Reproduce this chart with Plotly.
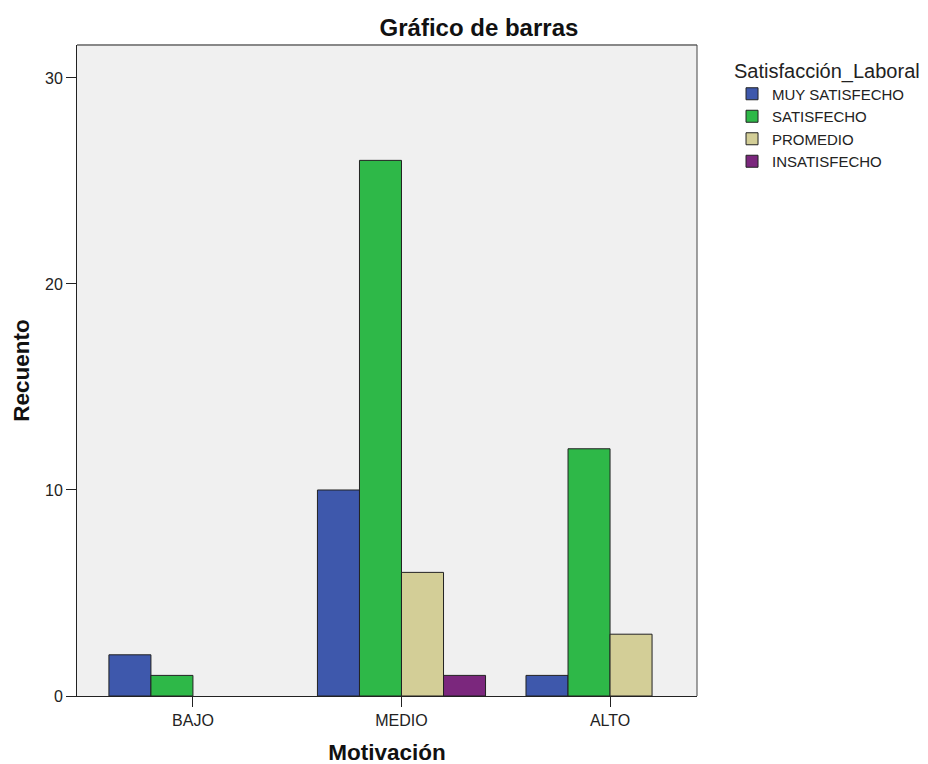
import plotly.graph_objects as go

categories = ["BAJO", "MEDIO", "ALTO"]
series_names = ["MUY SATISFECHO", "SATISFECHO", "PROMEDIO", "INSATISFECHO"]
values = {
    "MUY SATISFECHO": [2, 10, 1],
    "SATISFECHO": [1, 26, 12],
    "PROMEDIO": [0, 6, 3],
    "INSATISFECHO": [0, 1, 0],
}
colors = ["#3E58AC", "#2EB848", "#D3CE97", "#7B277D"]
y_ticks = [0, 10, 20, 30]

fig = go.Figure()
for name, col in zip(series_names, colors):
    fig.add_trace(go.Bar(
        x=categories, y=[v if v else None for v in values[name]], name=name,
        marker=dict(color=col, line=dict(color="#222222", width=1)),
    ))

font_family = "Liberation Sans, Arial, sans-serif"
fig.update_layout(
    width=928, height=764,
    margin=dict(l=69, r=239, t=37, b=76),
    paper_bgcolor="white", plot_bgcolor="#F0F0F0",
    barmode="group", bargap=0.194, bargroupgap=0,
    font=dict(family=font_family, size=16, color="#222222"),
    title=dict(text="<b>Gráfico de barras</b>", x=0.5075, xanchor="center",
               y=0.975, yanchor="middle", font=dict(size=24, color="#111111")),
    xaxis=dict(range=[-0.556, 2.417], showline=True, linecolor="#222222",
               linewidth=1, ticks="outside", ticklen=10, tickcolor="#222222",
               mirror=False, showgrid=False, zeroline=False,
               title=dict(text="<b>Motivación</b>", font=dict(size=22.5, color="#111111"),
                          standoff=16),
               tickfont=dict(size=16)),
    yaxis=dict(range=[0, 31.6], tickvals=y_ticks, showline=True, linecolor="#222222",
               linewidth=1, ticks="outside", ticklen=10, tickcolor="#222222",
               showgrid=False, zeroline=False,
               title=dict(text="<b>Recuento</b>", font=dict(size=22.5, color="#111111"),
                          standoff=9),
               tickfont=dict(size=16)),
    legend=dict(x=1.0565, y=0.99, xanchor="left", yanchor="top",
                title=dict(text="Satisfacción_Laboral", font=dict(size=20)),
                font=dict(size=15), tracegroupgap=0, itemwidth=30,
                bgcolor="rgba(0,0,0,0)"),
    showlegend=True,
)
# top and right border lines
fig.add_shape(type="line", xref="paper", yref="paper", x0=0, x1=1, y0=1, y1=1,
              line=dict(color="#888888", width=2))
fig.add_shape(type="line", xref="paper", yref="paper", x0=1, x1=1, y0=0, y1=1,
              line=dict(color="#444444", width=1))

fig.write_html("out.html")
